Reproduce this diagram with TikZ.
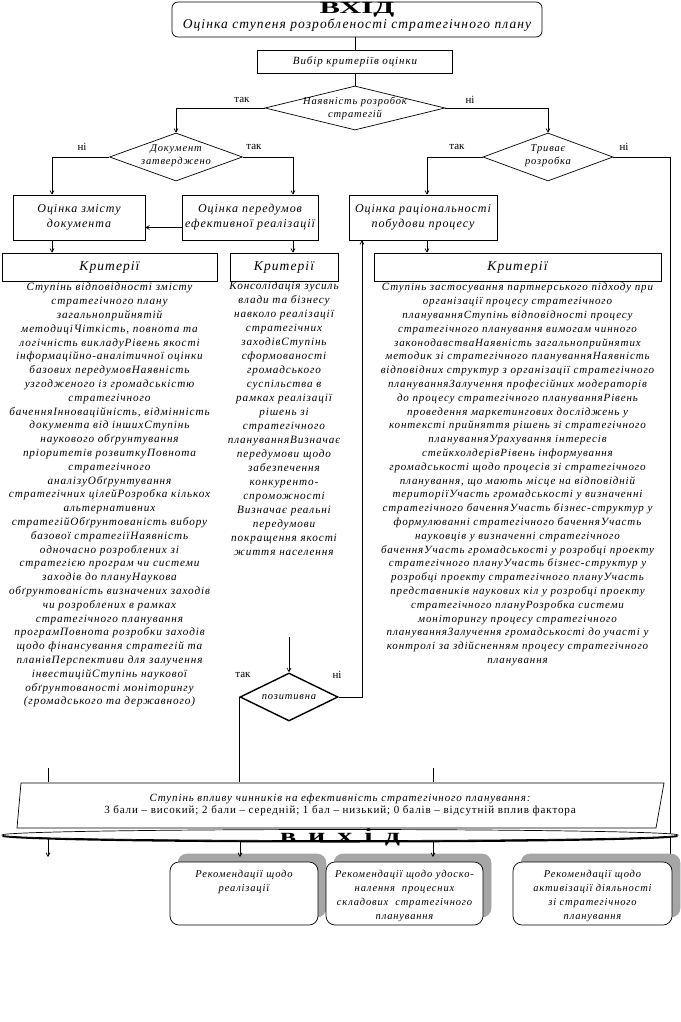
\documentclass[tikz,border=0pt]{standalone}
\usepackage{fontspec}
\usepackage{graphicx}
\setmainfont{Liberation Serif}
\newfontfamily\spc[LetterSpace=8]{Liberation Serif}
\usetikzlibrary{arrows.meta,shapes.geometric,shadows}
\newcommand\fcrit{\spc\itshape\fontsize{11.2}{13.8}\selectfont}
\newcommand\fbx{\spc\itshape\fontsize{12}{15}\selectfont}
\tikzset{
 ln/.style={line width=0.7pt},
 arr/.style={ln,-{Straight Barb[length=3.5pt,width=4pt]}},
 bx/.style={draw,ln,align=center,inner sep=0pt,fill=white},
 dia/.style={diamond,draw,ln,inner sep=0pt,fill=white},
 lab/.style={font=\fontsize{11}{12}\selectfont,inner sep=0pt},
 dtxt/.style={font=\spc\itshape\fontsize{10.5}{13}\selectfont,align=center,inner sep=0pt},
 crit/.style={align=center,inner sep=0pt,anchor=north,font=\fcrit},
 recbox/.style={draw,ln,fill=white,rounded corners=9pt,inner sep=0pt,
   copy shadow={shadow xshift=8pt,shadow yshift=8pt,fill=gray!70,draw=gray!70}},
 rectxt/.style={align=center,inner sep=0pt,anchor=north,font=\spc\itshape\fontsize{10.5}{14}\selectfont},
}
\begin{document}
\begin{tikzpicture}[x=1pt,y=-1pt]
\useasboundingbox (0,0) rectangle (680,1022);

% top
\node[bx,rounded corners=6pt,minimum width=370,minimum height=35] (top) at (357,19.5) {};
\node[font=\spc\itshape\fontsize{13.5}{15}\selectfont] (toptxt) at (357,25.5) {Оцінка ступеня розробленості стратегічного плану};
\node[font=\bfseries\fontsize{17}{17}\selectfont,anchor=base,inner sep=0pt] (vhid) at (357,14) {\scalebox{1.8}[1]{ВХІД}};

\node[bx,minimum width=195,minimum height=23,font=\spc\itshape\fontsize{11}{13}\selectfont] (sel) at (355,61.5) {Вибір критеріїв оцінки};
\draw[ln] (top.south -| sel.north) -- (sel);

\node[dia,minimum width=180,minimum height=44] (d1) at (355,108) {};
\node[dtxt] (d1t) at (355,108) {Наявність розробок\\стратегій};
\draw[ln] (sel) -- (d1);
\node[lab] (l1) at (242,100) {так};
\node[lab] (l2) at (470,100) {ні};

\node[dia,minimum width=133,minimum height=48] (d2) at (176,157) {};
\node[dtxt] (d2t) at (176,156) {Документ\\затверджено};
\node[lab] (l3) at (82,147) {ні};
\node[lab] (l4) at (254,147) {так};

\node[dia,minimum width=130,minimum height=48] (d3) at (548,157) {};
\node[dtxt] (d3t) at (548,156) {Триває\\розробка};
\node[lab] (l5) at (457,147) {так};
\node[lab] (l6) at (624,147) {ні};

\draw[arr] (d1.west) -| (d2.north);
\draw[arr] (d1.east) -| (d3.north);

% evaluation boxes
\node[bx,minimum width=132,minimum height=45,font=\fbx] (A) at (79,217.5) {Оцінка змісту\\документа};
\node[bx,minimum width=136,minimum height=45,font=\fbx] (B) at (250,217.5) {Оцінка передумов\\ефективної реалізації};
\node[bx,minimum width=148,minimum height=45,font=\fbx] (C) at (423,217.5) {Оцінка раціональності\\побудови процесу};

\draw[arr] (d2.west) -| ([xshift=-27pt]A.north);
\draw[arr] (d2.east) -| ([xshift=43pt]B.north);
\draw[arr] (d3.west) -| ([xshift=4pt]C.north);
\coordinate (rend) at (670,861);
\draw[arr] (d3.east) -| (rend);
\draw[arr] ([yshift=-10pt]B.west) -- ([yshift=-10pt]B.west -| A.east);

% criteria
\node[bx,minimum width=215,minimum height=28,font=\spc\itshape\fontsize{13.5}{15}\selectfont] (L) at (109.5,267) {Критерії};
\node[bx,minimum width=108,minimum height=28,font=\spc\itshape\fontsize{13.5}{15}\selectfont] (M) at (284,267) {Критерії};
\node[bx,minimum width=287,minimum height=28,font=\spc\itshape\fontsize{13.5}{15}\selectfont] (R) at (517.5,267) {Критерії};
\draw[arr] ([xshift=-27pt]A.south) -- ([xshift=-27pt]A.south |- L.north);
\draw[arr] ([xshift=43pt]B.south) -- ([xshift=43pt]B.south |- M.north);
\draw[arr] ([xshift=4pt]C.south) -- ([xshift=4pt]C.south |- R.north);

\node[crit] (Lt) at (109.5,283) {Ступінь відповідності змісту\\
стратегічного плану\\
загальноприйнятій\\
методиціЧіткість, повнота та\\
логічність викладуРівень якості\\
інформаційно-аналітичної оцінки\\
базових передумовНаявність\\
узгодженого із громадськістю\\
стратегічного\\
баченняІнноваційність, відмінність\\
документа від іншихСтупінь\\
наукового обґрунтування\\
пріоритетів розвиткуПовнота\\
стратегічного\\
аналізуОбґрунтування\\
стратегічних цілейРозробка кількох\\
альтернативних\\
стратегійОбґрунтованість вибору\\
базової стратегіїНаявність\\
одночасно розроблених зі\\
стратегією програм чи системи\\
заходів до плануНаукова\\
обґрунтованість визначених заходів\\
чи розроблених в рамках\\
стратегічного планування\\
програмПовнота розробки заходів\\
щодо фінансування стратегій та\\
планівПерспективи для залучення\\
інвестиційСтупінь наукової\\
обґрунтованості моніторингу\\
(громадського та державного)};

\node[crit,font=\spc\itshape\fontsize{11.2}{14}\selectfont] (Mt) at (284,282) {Консолідація зусиль\\
влади та бізнесу\\
навколо реалізації\\
стратегічних\\
заходівСтупінь\\
сформованості\\
громадського\\
суспільства в\\
рамках реалізації\\
рішень зі\\
стратегічного\\
плануванняВизначає\\
передумови щодо\\
забезпечення\\
конкуренто-\\
спроможності\\
Визначає реальні\\
передумови\\
покращення якості\\
життя населення};

\node[crit,font=\spc\itshape\fontsize{11}{13.8}\selectfont] (Rt) at (517.5,283) {Ступінь застосування партнерського підходу при\\
організації процесу стратегічного\\
плануванняСтупінь відповідності процесу\\
стратегічного планування вимогам чинного\\
законодавстваНаявність загальноприйнятих\\
методик зі стратегічного плануванняНаявність\\
відповідних структур з організації стратегічного\\
плануванняЗалучення професійних модераторів\\
до процесу стратегічного плануванняРівень\\
проведення маркетингових досліджень у\\
контексті прийняття рішень зі стратегічного\\
плануванняУрахування інтересів\\
стейкхолдерівРівень інформування\\
громадськості щодо процесів зі стратегічного\\
планування, що мають місце на відповідній\\
територіїУчасть громадськості у визначенні\\
стратегічного баченняУчасть бізнес-структур у\\
формулюванні стратегічного баченняУчасть\\
науковців у визначенні стратегічного\\
баченняУчасть громадськості у розробці проекту\\
стратегічного плануУчасть бізнес-структур у\\
розробці проекту стратегічного плануУчасть\\
представників наукових кіл у розробці проекту\\
стратегічного плануРозробка системи\\
моніторингу процесу стратегічного\\
плануванняЗалучення громадськості до участі у\\
контролі за здійсненням процесу стратегічного\\
планування};

% positive
\node[dia,line width=1.4pt,minimum width=98,minimum height=48] (pos) at (289,697) {};
\node[dtxt] (post) at (289,697) {позитивна};
\node[lab] (l7) at (243,675) {так};
\node[lab] (l8) at (337,675) {ні};
\coordinate (mend) at (289,637);
\draw[arr] (mend) -- (pos.north);
\draw[arr] (pos.east) -| ([xshift=-61pt]C.south);

% influence box
\draw[ln,fill=white] (21,783) -- (664,783) -- (656,828) -- (17,828) -- cycle;
\node[align=center,inner sep=0pt,minimum width=640,minimum height=45] (S) at (340,805)
 {{\spc\itshape\fontsize{11}{15}\selectfont Ступінь впливу чинників на ефективність стратегічного планування:}\\
  {\spc\fontsize{11}{15}\selectfont 3 бали – високий; 2 бали – середній; 1 бал – низький; 0 балів – відсутній вплив фактора}};
\draw[ln] (pos.west) -- (pos.west |- S.north);
\coordinate (st1) at (48,768);
\coordinate (st2) at (433,768);
\draw[ln] (st1) -- (st1 |- S.north);
\draw[ln] (st2) -- (st2 |- S.north);

% recommendations
\node[recbox,minimum width=148,minimum height=63] (R1) at (244,893.5) {};
\node[recbox,minimum width=157,minimum height=63] (R2) at (404.5,893.5) {};
\node[recbox,minimum width=159,minimum height=63] (R3) at (592.5,893.5) {};
\node[rectxt] (R1t) at ([yshift=-8pt]R1.north) {Рекомендації щодо\\реалізації};
\node[rectxt] (R2t) at ([yshift=-8pt]R2.north) {Рекомендації щодо удоско-\\налення\ \ процесних\\складових\ \ стратегічного\\планування};
\node[rectxt] (R3t) at ([yshift=-8pt]R3.north) {Рекомендації щодо\\активізації діяльності\\зі стратегічного\\планування};

% output ellipse
\coordinate (b1) at (48,857);
\coordinate (b2) at (240,857);
\coordinate (b3) at (433,857);
\draw[arr] (b1 |- 0,835) -- (b1);
\draw[arr] (b2 |- 0,835) -- (b2);
\draw[arr] (b3 |- 0,835) -- (b3);
\node[ellipse,fill=black,inner sep=0pt,minimum width=676,minimum height=12] (Vs) at (340,836.5) {};
\node[ellipse,draw,ln,fill=white,inner sep=0pt,minimum width=676,minimum height=11] (V) at (340,835) {};
\node[font=\bfseries\fontsize{20}{20}\selectfont,anchor=base,inner sep=0pt] (vyh) at (340,842)
 {\scalebox{1.5}[1]{в\hspace{8pt}и\hspace{8pt}х\hspace{8pt}і\hspace{8pt}д}};
\end{tikzpicture}
\end{document}
